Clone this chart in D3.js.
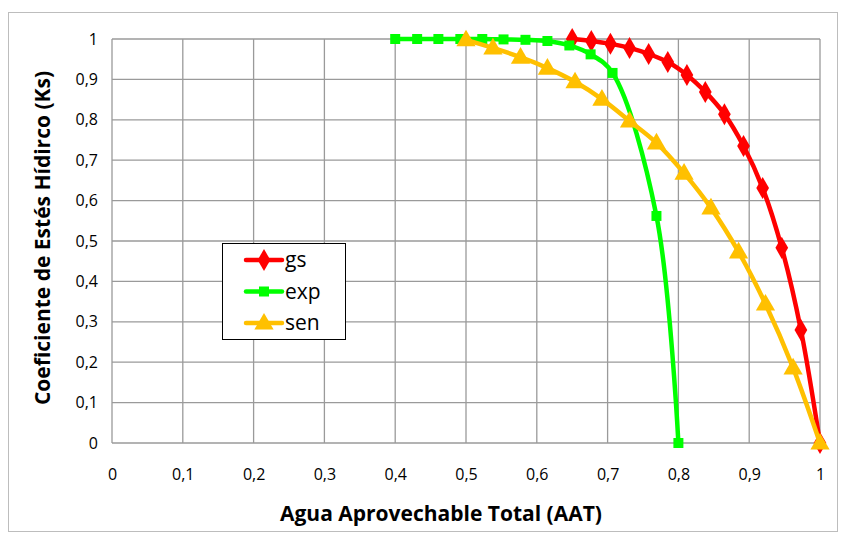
<!DOCTYPE html>
<html>
<head>
<meta charset="utf-8">
<script src="https://cdn.jsdelivr.net/npm/d3@7"></script>
<style>
  body { margin: 0; background: #fff; }
  svg text { font-family: "Open Sans", "Noto Sans", sans-serif; }
</style>
</head>
<body>
<svg id="chart" width="841" height="536"></svg>
<script>
// Water stress coefficient (Ks) vs. fraction of total available water (AAT)
const gsX  = [0.65, 0.677, 0.704, 0.731, 0.758, 0.785, 0.812, 0.838, 0.865, 0.892, 0.919, 0.946, 0.973, 1.0];
const gsY  = [1.0, 0.995, 0.988, 0.978, 0.963, 0.943, 0.911, 0.869, 0.814, 0.735, 0.631, 0.483, 0.280, 0.0];

const expX = [0.4, 0.431, 0.461, 0.492, 0.523, 0.553, 0.584, 0.615, 0.646, 0.676, 0.707, 0.769, 0.8];
const expY = [1.0, 1.0, 1.0, 1.0, 1.0, 0.999, 0.998, 0.995, 0.984, 0.962, 0.916, 0.562, 0.0];

const senX = [0.5, 0.538, 0.577, 0.615, 0.654, 0.692, 0.731, 0.769, 0.808, 0.846, 0.885, 0.923, 0.962, 1.0];
const senY = [0.998, 0.978, 0.955, 0.928, 0.894, 0.851, 0.797, 0.743, 0.668, 0.582, 0.473, 0.344, 0.186, 0.0];

const xTicks = [0, 0.1, 0.2, 0.3, 0.4, 0.5, 0.6, 0.7, 0.8, 0.9, 1];
const yTicks = [0, 0.1, 0.2, 0.3, 0.4, 0.5, 0.6, 0.7, 0.8, 0.9, 1];

const seriesNames  = ["gs", "exp", "sen"];
const seriesColors = ["#FF0000", "#00FF00", "#FFC000"];
const seriesShapes = [d3.symbolDiamond, d3.symbolSquare, d3.symbolTriangle];
const seriesXs = [gsX, expX, senX];
const seriesYs = [gsY, expY, senY];

const series = seriesNames.map((name, i) => ({
  name,
  color: seriesColors[i],
  shape: seriesShapes[i],
  points: seriesXs[i].map((xv, j) => ({ x: xv, y: seriesYs[i][j] }))
}));

const svg = d3.select("#chart");
const plotLeft = 112, plotRight = 820, plotTop = 39, plotBottom = 443;

// outer chart frame
svg.append("rect")
  .attr("x", 8.5).attr("y", 12.5)
  .attr("width", 829).attr("height", 519)
  .attr("fill", "#fff").attr("stroke", "#bdbdbd").attr("stroke-width", 1);

const x = d3.scaleLinear().domain([0, 1]).range([plotLeft, plotRight]);
const y = d3.scaleLinear().domain([0, 1]).range([plotBottom, plotTop]);
const fmt = d => d3.format(".1~f")(d).replace(".", ",");

// gridlines
const grid = svg.append("g").attr("stroke", "#9a9a9a").attr("stroke-width", 1.3);
grid.selectAll("line.v").data(xTicks).join("line").attr("class", "v")
  .attr("x1", d => x(d)).attr("x2", d => x(d))
  .attr("y1", plotTop).attr("y2", plotBottom);
grid.selectAll("line.h").data(yTicks).join("line").attr("class", "h")
  .attr("x1", plotLeft).attr("x2", plotRight)
  .attr("y1", d => y(d)).attr("y2", d => y(d));

// axes (labels only; lines come from the grid)
const xAxis = svg.append("g")
  .attr("transform", `translate(0,${plotBottom})`)
  .call(d3.axisBottom(x).tickValues(xTicks).tickFormat(fmt).tickSize(0).tickPadding(26));
const yAxis = svg.append("g")
  .attr("transform", `translate(${plotLeft},0)`)
  .call(d3.axisLeft(y).tickValues(yTicks).tickFormat(fmt).tickSize(0).tickPadding(14));
[xAxis, yAxis].forEach(a => {
  a.select(".domain").remove();
  a.selectAll("text")
    .style("font-family", "'Open Sans', 'Noto Sans', sans-serif")
    .attr("font-size", 16).attr("fill", "#000");
});

// axis titles
svg.append("text")
  .attr("x", 441).attr("y", 521)
  .attr("text-anchor", "middle")
  .attr("font-size", 21).attr("font-weight", "bold")
  .text("Agua Aprovechable Total (AAT)");
svg.append("text")
  .attr("transform", `translate(50,238) rotate(-90)`)
  .attr("text-anchor", "middle")
  .attr("font-size", 21).attr("font-weight", "bold")
  .text("Coeficiente de Estés Hídirco (Ks)");

// series lines (smoothed) and markers
const line = d3.line().x(d => x(d.x)).y(d => y(d.y)).curve(d3.curveCatmullRom.alpha(0.5));
const markerSize = { gs: 140, exp: 100, sen: 160 };

series.forEach(s => {
  svg.append("path")
    .datum(s.points)
    .attr("d", line)
    .attr("fill", "none")
    .attr("stroke", s.color)
    .attr("stroke-width", 4.5)
    .attr("stroke-linejoin", "round");
  svg.append("g").selectAll("path").data(s.points).join("path")
    .attr("transform", d => `translate(${x(d.x)},${y(d.y) + (s.shape === d3.symbolTriangle ? 1 : 0)})`)
    .attr("d", d3.symbol().type(s.shape).size(markerSize[s.name]))
    .attr("fill", s.color);
});

// legend
const lg = svg.append("g");
lg.append("rect")
  .attr("x", 222.5).attr("y", 243.5).attr("width", 123).attr("height", 96)
  .attr("fill", "#fff").attr("stroke", "#000").attr("stroke-width", 1);
series.forEach((s, i) => {
  const ly = 260 + i * 31.5;
  lg.append("line")
    .attr("x1", 246).attr("x2", 282).attr("y1", ly).attr("y2", ly)
    .attr("stroke", s.color).attr("stroke-width", 4.5).attr("stroke-linecap", "round");
  lg.append("path")
    .attr("transform", `translate(264,${ly + (s.shape === d3.symbolTriangle ? 1 : 0)})`)
    .attr("d", d3.symbol().type(s.shape).size(markerSize[s.name]))
    .attr("fill", s.color);
  lg.append("text")
    .attr("x", 285).attr("y", ly + 7)
    .attr("font-size", 21).attr("fill", "#000")
    .text(s.name);
});
</script>
</body>
</html>
